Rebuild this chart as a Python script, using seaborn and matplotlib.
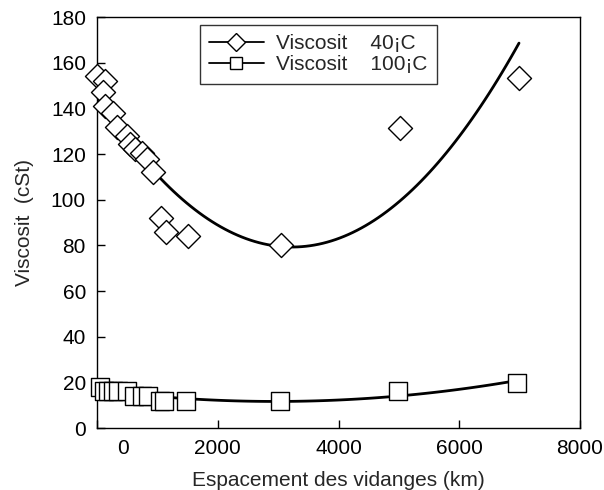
import matplotlib
matplotlib.use("Agg")
import matplotlib.pyplot as plt
import matplotlib.transforms as mtransforms
from matplotlib.lines import Line2D
import seaborn as sns
import pandas as pd

# Viscosite a 40 C (losanges)
km_40 = [0, 130, 100, 130, 265, 330, 500, 550, 630, 745, 830, 930,
         1060, 1140, 1500, 3050, 5020, 6990]
visc_40 = [154, 152, 147, 141, 138, 132, 128, 124.5, 122, 120.5, 118, 112,
           92, 86, 84, 80, 131.5, 153.5]

# Viscosite a 100 C (carres)
km_100 = [50, 115, 180, 265, 350, 500, 610, 745, 845, 1045, 1110, 1475,
          3030, 4985, 6955]
visc_100 = [17.9, 16.3, 16.2, 16.2, 16.2, 16.0, 13.9, 14.2, 14.2, 12.0, 12.0, 12.0,
            12.0, 16.2, 19.7]

x_ticks = [0, 2000, 4000, 6000, 8000]
y_ticks = list(range(0, 181, 20))

df40 = pd.DataFrame({"km": km_40, "visc": visc_40})
df100 = pd.DataFrame({"km": km_100, "visc": visc_100})

sns.set_style("ticks")
plt.rcParams['font.family'] = ['Liberation Sans', 'DejaVu Sans']
plt.rcParams['font.size'] = 15

fig = plt.figure(figsize=(6.04, 4.90), dpi=100)
ax = fig.add_axes([97/604, 1 - 428/490, (580-97)/604, (428-17)/490])

# courbes de tendance (polynome d'ordre 2)
for d in (df40, df100):
    sns.regplot(data=d, x="km", y="visc", order=2, ci=None, scatter=False,
                truncate=True, ax=ax,
                line_kws=dict(color="black", lw=2.0, zorder=2))

sns.scatterplot(data=df40, x="km", y="visc", marker="D", s=150, color="white",
                edgecolor="black", linewidth=1.0, ax=ax, zorder=3, clip_on=False)
sns.scatterplot(data=df100, x="km", y="visc", marker="s", s=180, color="white",
                edgecolor="black", linewidth=1.0, ax=ax, zorder=3, clip_on=False)

ax.set_xlim(0, 8000)
ax.set_ylim(0, 180)
ax.set_xticks(x_ticks)
ax.set_yticks(y_ticks)
ax.tick_params(direction="in", length=6, width=1, colors="black", labelsize=15, pad=8)
for sp in ax.spines.values():
    sp.set_visible(True)
    sp.set_color("black")
    sp.set_linewidth(1.0)

ax.set_xlabel("Espacement des vidanges (km)", fontsize=15, labelpad=9)
ax.set_ylabel("Viscosit  (cSt)", fontsize=15, labelpad=12)

# le "0" de l'axe x est decale vers la droite dans l'original
fig.canvas.draw()
lab0 = ax.get_xticklabels()[0]
lab0.set_transform(lab0.get_transform() +
                   mtransforms.ScaledTranslation(0.26, 0, fig.dpi_scale_trans))

handles = [
    Line2D([], [], color="black", lw=1.3, marker="D", ms=9.5,
           markerfacecolor="white", markeredgecolor="black"),
    Line2D([], [], color="black", lw=1.3, marker="s", ms=9,
           markerfacecolor="white", markeredgecolor="black"),
]
leg = ax.legend(handles, ["Viscosit    40¡C", "Viscosit    100¡C"],
                loc="upper left", bbox_to_anchor=(200/604, 1 - 25/490),
                bbox_transform=fig.transFigure, borderaxespad=0,
                fontsize=15, frameon=True, fancybox=False, handlelength=2.6,
                handletextpad=0.6, labelspacing=0.1, borderpad=0.45)
leg.get_frame().set_edgecolor("black")
leg.get_frame().set_linewidth(1.0)

fig.savefig("out.png", dpi=100)
